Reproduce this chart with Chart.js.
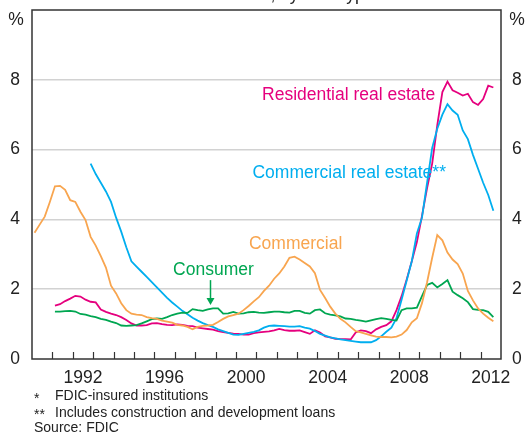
<!DOCTYPE html>
<html>
<head>
<meta charset="utf-8">
<script src="https://cdn.jsdelivr.net/npm/chart.js@4.4.1/dist/chart.umd.min.js"></script>
<style>
  html, body { margin: 0; padding: 0; background: #fff; }
  canvas { display: block; }
</style>
</head>
<body>
<canvas id="loansChart" width="528" height="433"></canvas>
<script>
// Quarterly data, 1990 Q1 to 2012 Q3 (per cent of loans)
const firstYear = 1990;
const tickYears = [1992, 1996, 2000, 2004, 2008, 2012];

const commercial = [
  3.62, 3.85, 4.08, 4.5,   4.95, 4.96, 4.85, 4.55,  4.5, 4.22, 3.98, 3.5,
  3.25, 2.95, 2.62, 2.1,   1.88, 1.6, 1.4, 1.3,     1.27, 1.26, 1.2, 1.17,
  1.15, 1.1, 1.07, 1.04,   0.98, 0.96, 0.92, 0.85,  0.92, 0.95, 0.96, 0.98,
  1.06, 1.15, 1.22, 1.26,  1.3, 1.4, 1.52, 1.65,    1.77, 1.95, 2.1, 2.3,
  2.45, 2.65, 2.9, 2.93,   2.85, 2.75, 2.65, 2.46,  1.98, 1.75, 1.5, 1.3,
  1.15, 1.05, 0.92, 0.8,   0.76, 0.72, 0.68, 0.64,  0.63, 0.63, 0.62, 0.64,
  0.7, 0.83, 1.05, 1.17,   1.6, 2.2, 2.9, 3.55,     3.4, 3.05, 2.85, 2.72,
  2.45, 1.95, 1.68, 1.45,  1.3, 1.18, 1.08
];

const consumer = [
  null, null, null, null,  1.36, 1.36, 1.37, 1.38,  1.36, 1.29, 1.27, 1.23,
  1.2, 1.15, 1.12, 1.07,   1.03, 0.96, 0.95, 0.96,  0.97, 1.02, 1.08, 1.14,
  1.16, 1.15, 1.2, 1.26,   1.3, 1.33, 1.32, 1.43,   1.4, 1.38, 1.42, 1.45,
  1.45, 1.3, 1.31, 1.35,   1.3, 1.31, 1.34, 1.35,   1.33, 1.32, 1.34, 1.36,
  1.36, 1.34, 1.33, 1.38,  1.38, 1.32, 1.3, 1.4,    1.42, 1.31, 1.27, 1.25,
  1.22, 1.16, 1.15, 1.12,  1.1, 1.07, 1.11, 1.14,   1.17, 1.15, 1.12, 1.1,
  1.4, 1.45, 1.45, 1.47,   1.8, 2.12, 2.18, 2.05,   2.15, 2.26, 1.93, 1.83,
  1.74, 1.63, 1.43, 1.41,  1.4, 1.35, 1.2
];

const residential = [
  null, null, null, null,  1.53, 1.57, 1.66, 1.73,  1.81, 1.79, 1.7, 1.64,
  1.62, 1.42, 1.35, 1.3,   1.26, 1.2, 1.12, 1.02,   0.96, 0.96, 0.97, 1.02,
  1.03, 1.0, 0.98, 0.97,   0.99, 0.98, 0.95, 0.94,  0.9, 0.88, 0.86, 0.84,
  0.8, 0.77, 0.75, 0.73,   0.72, 0.7, 0.7, 0.74,    0.76, 0.78, 0.79, 0.82,
  0.86, 0.83, 0.81, 0.81,  0.82, 0.77, 0.72, 0.82,  0.76, 0.65, 0.62, 0.58,
  0.57, 0.57, 0.56, 0.76,  0.82, 0.8, 0.74, 0.85,   0.92, 0.97, 1.08, 1.4,
  1.8, 2.28, 2.8, 3.35,    4.1, 4.9, 5.6, 6.7,      7.65, 7.95, 7.7, 7.63,
  7.55, 7.6, 7.36, 7.28,   7.45, 7.83, 7.78
];

const commercialRealEstate = [
  null, null, null, null,  null, null, null, null,  null, null, null, 5.6,
  5.3, 5.05, 4.8, 4.5,     4.05, 3.65, 3.2, 2.8,    2.65, 2.5, 2.35, 2.2,
  2.05, 1.9, 1.75, 1.62,   1.5, 1.38, 1.28, 1.18,   1.1, 1.03, 0.97, 0.92,
  0.85, 0.8, 0.75, 0.7,    0.69, 0.72, 0.75, 0.78,  0.82, 0.9, 0.95, 0.96,
  0.95, 0.94, 0.93, 0.93,  0.94, 0.9, 0.87, 0.8,    0.72, 0.67, 0.62, 0.59,
  0.56, 0.54, 0.52, 0.5,   0.48, 0.48, 0.48, 0.54,  0.65, 0.78, 0.9, 1.17,
  1.7, 2.25, 2.8, 3.6,     4.05, 5.05, 6.05, 6.6,   7.0, 7.3, 7.12, 7.0,
  6.55, 6.3, 5.85, 5.45,   5.05, 4.7, 4.25
];

const colours = {
  residential: '#e5007e',
  cre: '#00aeef',
  commercial: '#f8a54f',
  consumer: '#00a651'
};

// mid-point of each quarter as a decimal year
const quarterDates = commercial.map((v, i) => firstYear + (i + 0.5) / 4);

function toPoints(values) {
  return values.map((v, i) => ({ x: quarterDates[i], y: v }));
}

const FONT = 'Arial, "Liberation Sans", sans-serif';

// labels placed on the plot in data units (left edge, vertical centre)
const seriesNotes = [
  { text: 'Residential real estate', x: 2001.28, y: 7.56, color: colours.residential },
  { text: 'Commercial real estate**', x: 2000.81, y: 5.33, color: colours.cre },
  { text: 'Commercial', x: 2000.64, y: 3.3, color: colours.commercial },
  { text: 'Consumer', x: 1996.92, y: 2.55, color: colours.consumer }
];

// vertical axes: no extra room for the (hidden) end labels
function fitVertical(width) {
  return scale => {
    scale.width = width;
    scale.paddingTop = 0;
    scale.paddingBottom = 0;
  };
}

const decorPlugin = {
  id: 'decor',
  afterDraw(chart) {
    const ctx = chart.ctx;
    const area = chart.chartArea;
    const xs = chart.scales.x;
    const ys = chart.scales.y;
    ctx.save();

    // frame
    ctx.strokeStyle = '#333';
    ctx.lineWidth = 1.5;
    ctx.strokeRect(area.left, area.top, area.right - area.left, area.bottom - area.top);

    // year ticks pointing into the plot
    ctx.lineWidth = 1.2;
    for (let yr = firstYear + 1; yr < 2013; yr++) {
      const px = Math.round(xs.getPixelForValue(yr)) + 0.5;
      ctx.beginPath();
      ctx.moveTo(px, area.bottom);
      ctx.lineTo(px, area.bottom - 7);
      ctx.stroke();
    }

    // unit labels
    ctx.fillStyle = '#222';
    ctx.font = '17.5px ' + FONT;
    ctx.textAlign = 'center';
    ctx.textBaseline = 'middle';
    ctx.fillText('%', 16, 20);
    ctx.fillText('%', 517, 20);

    // series labels
    ctx.textAlign = 'left';
    seriesNotes.forEach(n => {
      ctx.fillStyle = n.color;
      ctx.fillText(n.text, xs.getPixelForValue(n.x), ys.getPixelForValue(n.y));
    });

    // consumer arrow
    const ax = Math.round(xs.getPixelForValue(1998.73)) + 0.5;
    const aTop = ys.getPixelForValue(2.26);
    const aTip = ys.getPixelForValue(1.55);
    ctx.strokeStyle = colours.consumer;
    ctx.fillStyle = colours.consumer;
    ctx.lineWidth = 1.5;
    ctx.beginPath();
    ctx.moveTo(ax, aTop);
    ctx.lineTo(ax, aTip - 5);
    ctx.stroke();
    ctx.beginPath();
    ctx.moveTo(ax - 4, aTip - 7);
    ctx.lineTo(ax + 4, aTip - 7);
    ctx.lineTo(ax, aTip);
    ctx.closePath();
    ctx.fill();

    // footnotes
    ctx.fillStyle = '#222';
    ctx.font = '14px ' + FONT;
    ctx.fillText('*', 34, 399);
    ctx.fillText('FDIC-insured institutions', 55, 396.5);
    ctx.fillText('**', 34, 415.5);
    ctx.fillText('Includes construction and development loans', 55, 413);
    ctx.fillText('Source: FDIC', 34, 428.5);

    // title line, mostly above the visible area
    ctx.textAlign = 'center';
    ctx.textBaseline = 'alphabetic';
    ctx.font = '17.5px ' + FONT;
    ctx.fillText('Share of loans, by loan type', 266, -0.5);

    ctx.restore();
  }
};

const chartCtx = document.getElementById('loansChart').getContext('2d');

const loansChart = new Chart(chartCtx, {
  type: 'line',
  data: {
    datasets: [
      { label: 'Commercial', data: toPoints(commercial), borderColor: colours.commercial },
      { label: 'Consumer', data: toPoints(consumer), borderColor: colours.consumer },
      { label: 'Commercial real estate', data: toPoints(commercialRealEstate), borderColor: colours.cre },
      { label: 'Residential real estate', data: toPoints(residential), borderColor: colours.residential }
    ]
  },
  options: {
    responsive: false,
    animation: false,
    layout: { padding: { top: 10, bottom: 0, left: 0, right: 0 } },
    elements: {
      point: { radius: 0 },
      line: { borderWidth: 1.8, tension: 0 }
    },
    plugins: {
      legend: { display: false },
      tooltip: { enabled: false }
    },
    scales: {
      x: {
        type: 'linear',
        min: 1990,
        max: 2013,
        grid: { display: false, drawTicks: false },
        border: { display: false },
        afterBuildTicks: scale => {
          scale.ticks = tickYears.map(y => ({ value: y + 0.5 }));
        },
        afterFit: scale => {
          scale.height = 74;
          scale.paddingLeft = 0;
          scale.paddingRight = 0;
        },
        ticks: {
          autoSkip: false,
          maxRotation: 0,
          padding: 9,
          color: '#222',
          font: { size: 17.5, family: FONT },
          callback: v => String(Math.floor(v))
        }
      },
      y: {
        position: 'left',
        min: 0,
        max: 10,
        border: { display: false },
        grid: {
          drawTicks: false,
          lineWidth: 1.5,
          color: c => (c.tick.value > 0 && c.tick.value < 10 ? '#d2d2d2' : 'rgba(0,0,0,0)')
        },
        afterFit: fitVertical(32),
        ticks: {
          stepSize: 2,
          padding: 12,
          color: '#222',
          font: { size: 17.5, family: FONT },
          callback: v => (v === 10 ? '' : v)
        }
      },
      yRight: {
        position: 'right',
        min: 0,
        max: 10,
        border: { display: false },
        grid: { display: false, drawTicks: false },
        afterFit: fitVertical(27),
        ticks: {
          stepSize: 2,
          padding: 11,
          color: '#222',
          font: { size: 17.5, family: FONT },
          callback: v => (v === 10 ? '' : v)
        }
      }
    }
  },
  plugins: [decorPlugin]
});
</script>
</body>
</html>
